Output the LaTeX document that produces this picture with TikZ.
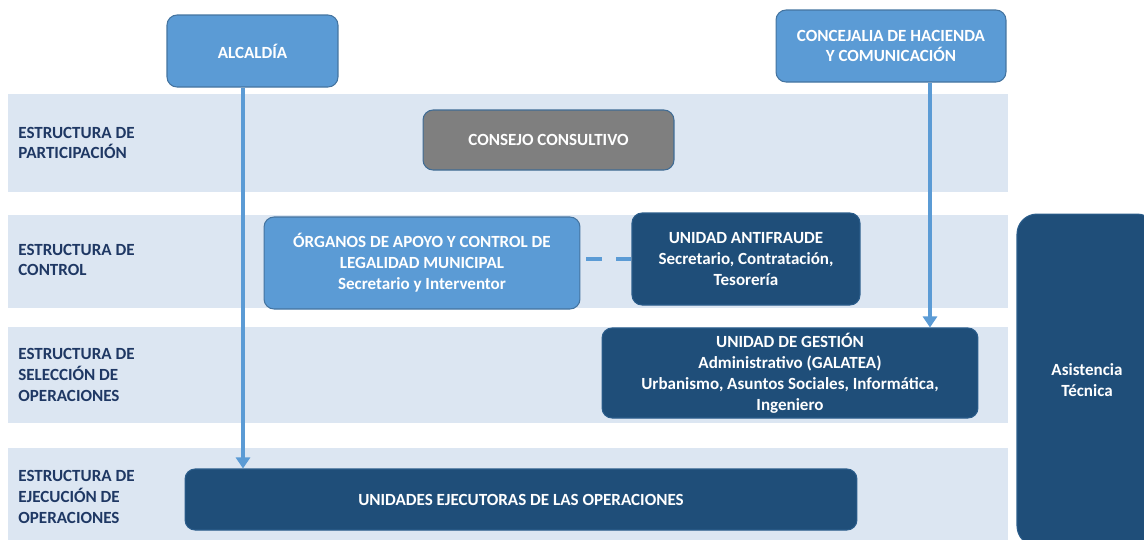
\documentclass[tikz,border=0pt]{standalone}
\usepackage{fontspec}
\setmainfont{Carlito}
\usetikzlibrary{arrows.meta}
\definecolor{bandblue}{HTML}{DCE6F2}
\definecolor{midblue}{HTML}{5B9BD5}
\definecolor{darkblue}{HTML}{1F4E79}
\definecolor{boxgray}{HTML}{7F7F7F}
\definecolor{labelblue}{HTML}{1F3864}
\tikzset{
  boxfont/.style={font=\bfseries\fontsize{9.7}{11.9}\selectfont},
  orgbox/.style={boxfont, rounded corners=0.2cm, fill=midblue, draw=midblue!75!black,
    line width=0.6pt, text=white, align=center, inner sep=0pt},
  unitbox/.style={orgbox, fill=darkblue, draw=darkblue!80!midblue},
  consbox/.style={orgbox, fill=boxgray, draw=midblue!70!black},
  rowlabel/.style={boxfont, text=labelblue, align=left, anchor=west, inner sep=0pt},
  flow/.style={midblue, line width=1.8pt, -{Triangle[width=0.28cm,length=0.22cm]}},
  link/.style={midblue, line width=1.8pt, dash pattern=on 0.32cm off 0.28cm, dash phase=0.48cm}
}
\begin{document}
\begin{tikzpicture}[x=0.02cm,y=-0.02cm]
\useasboundingbox (0,0) rectangle (1144,539);
%
\fill[bandblue] (8,94) rectangle (1008,192);
\fill[bandblue] (8,215) rectangle (1008,308);
\fill[bandblue] (8,327) rectangle (1008,423);
\fill[bandblue] (8,448) rectangle (1008,545);
%
\node[rowlabel] (lblpart) at (18,143) {ESTRUCTURA DE\\PARTICIPACIÓN};
\node[rowlabel] (lblcont) at (18,260) {ESTRUCTURA DE\\CONTROL};
\node[rowlabel] (lblsel) at (18,375) {ESTRUCTURA DE\\SELECCIÓN DE\\OPERACIONES};
\node[rowlabel] (lblejec) at (18,497) {ESTRUCTURA DE\\EJECUCIÓN DE\\OPERACIONES};
%
\node[orgbox, minimum width=3.42cm, minimum height=1.44cm] (alcaldia) at (252.5,51) {ALCALDÍA};
\node[orgbox, minimum width=4.6cm, minimum height=1.44cm] (concejalia) at (891,46)
  {CONCEJALIA DE HACIENDA\\Y COMUNICACIÓN};
%
\node[consbox, minimum width=5.02cm, minimum height=1.2cm] (consejo) at (548.5,140) {CONSEJO CONSULTIVO};
%
\node[orgbox, minimum width=6.32cm, minimum height=1.84cm] (organos) at (422,263)
  {ÓRGANOS DE APOYO Y CONTROL DE\\LEGALIDAD MUNICIPAL\\Secretario y Interventor};
\node[unitbox, minimum width=4.56cm, minimum height=1.84cm] (antifraude) at (746,259)
  {UNIDAD ANTIFRAUDE\\Secretario, Contratación,\\Tesorería};
%
\node[unitbox, minimum width=7.52cm, minimum height=1.8cm] (gestion) at (790,373)
  {UNIDAD DE GESTIÓN\\Administrativo (GALATEA)\\Urbanismo,  Asuntos Sociales, Informática,\\Ingeniero};
%
\node[unitbox, minimum width=13.44cm, minimum height=1.22cm] (ejecutoras) at (521,499.5)
  {UNIDADES EJECUTORAS DE LAS OPERACIONES};
%
\node[unitbox, rounded corners=0.4cm, minimum width=2.8cm, minimum height=6.64cm] (asistencia) at (1087,380)
  {Asistencia\\Técnica};
%
\coordinate (alcfoot) at ([xshift=-0.19cm]alcaldia.south);
\coordinate (concfoot) at ([xshift=0.78cm]concejalia.south);
\draw[flow] (alcfoot) -- (alcfoot |- ejecutoras.north);
\draw[flow] (concfoot) -- (concfoot |- gestion.north);
\draw[link] (organos.east |- antifraude.west) -- (antifraude.west);
%
\end{tikzpicture}
\end{document}
